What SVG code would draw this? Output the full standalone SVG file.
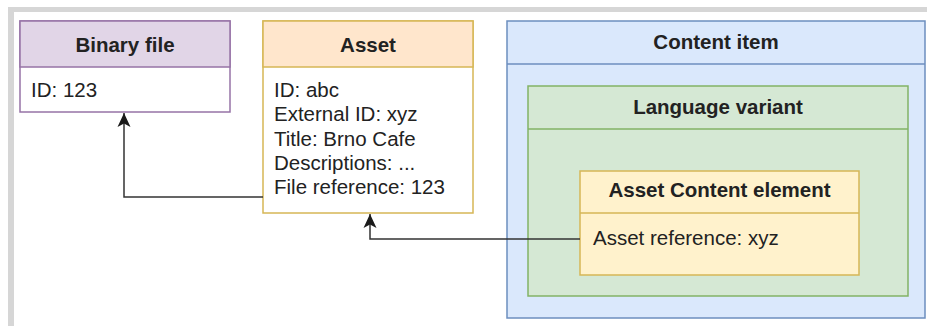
<svg xmlns="http://www.w3.org/2000/svg" width="927" height="326" viewBox="0 0 927 326">
<defs>
<style>
text{font-family:"Liberation Sans",Arial,Helvetica,sans-serif;font-size:20.5px;fill:#222}
.h{font-weight:bold;text-anchor:middle}
.b{stroke-width:1.5}
.edge{fill:none;stroke:#333;stroke-width:1.5}
</style>
<marker id="arr" markerUnits="userSpaceOnUse" markerWidth="16" markerHeight="14" refX="14" refY="7" orient="auto">
<path d="M0,0.5 L14,7 L0,13.5 L3.5,7 Z" fill="#1a1a1a"/>
</marker>
</defs>
<rect x="0" y="0" width="927" height="326" fill="#ffffff"/>
<rect x="8" y="7" width="919" height="5" fill="#d6d6d6"/>
<rect x="8" y="7" width="6" height="319" fill="#d6d6d6"/>

<g id="binary-file">
<rect class="b" x="20" y="21" width="210" height="91" fill="#ffffff" stroke="#9673a6"/>
<rect class="b" x="20" y="21" width="210" height="46" fill="#e1d5e7" stroke="#9673a6"/>
<text class="h" x="125" y="52">Binary file</text>
<text x="31" y="97">ID: 123</text>
</g>

<g id="asset">
<rect class="b" x="263" y="21" width="210" height="192" fill="#ffffff" stroke="#d6b656"/>
<rect class="b" x="263" y="21" width="210" height="46" fill="#ffe6cc" stroke="#d6b656"/>
<text class="h" x="368" y="52">Asset</text>
<text x="274" y="97">ID: abc</text>
<text x="274" y="121">External ID: xyz</text>
<text x="274" y="146">Title: Brno Cafe</text>
<text x="274" y="170">Descriptions: ...</text>
<text x="274" y="194">File reference: 123</text>
</g>

<g id="content-item">
<rect class="b" x="507" y="21" width="418" height="297" fill="#dae8fc" stroke="#6c8ebf"/>
<line class="b" x1="507" y1="64" x2="925" y2="64" stroke="#6c8ebf"/>
<text class="h" x="716" y="49">Content item</text>
</g>

<g id="language-variant">
<rect class="b" x="528" y="86" width="380" height="210" fill="#d5e8d4" stroke="#82b366"/>
<line class="b" x1="528" y1="129" x2="908" y2="129" stroke="#82b366"/>
<text class="h" x="718" y="114">Language variant</text>
</g>

<g id="asset-content-element">
<rect class="b" x="580" y="171" width="279" height="104" fill="#fff2cc" stroke="#d6b656"/>
<line class="b" x1="580" y1="213" x2="859" y2="213" stroke="#d6b656"/>
<text class="h" x="719.5" y="197">Asset Content element</text>
<text x="593" y="245">Asset reference: xyz</text>
</g>

<g id="connectors">
<path class="edge" d="M263,197 H124 V113" marker-end="url(#arr)"/>
<path class="edge" d="M580,239 H370 V214" marker-end="url(#arr)"/>
</g>
</svg>
